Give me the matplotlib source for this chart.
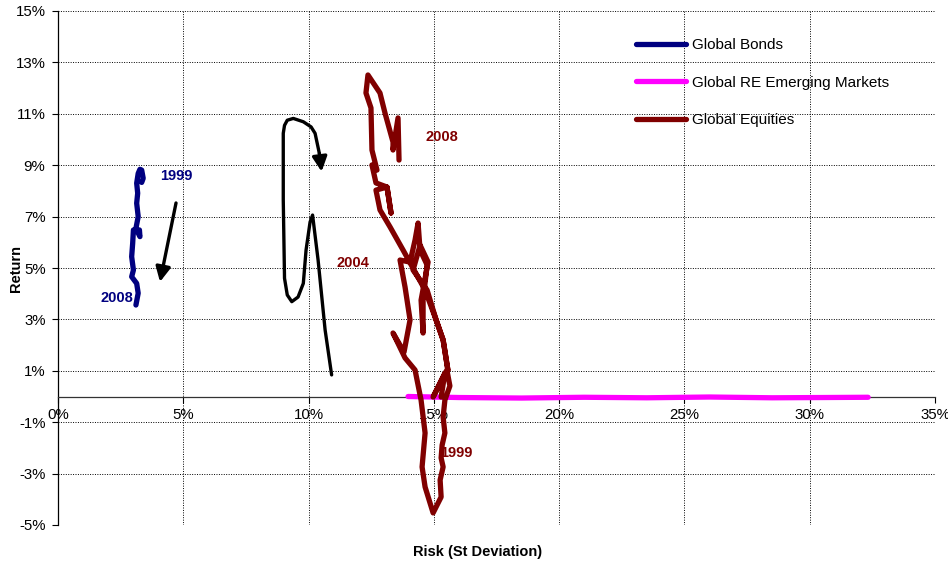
import matplotlib
matplotlib.use('Agg')
import matplotlib.pyplot as plt
import numpy as np

plt.rcParams['font.family'] = ['Liberation Sans', 'DejaVu Sans']

# Rolling risk / return paths, in percent
bonds_risk = [3.34, 3.40, 3.34, 3.27, 3.20, 3.14, 3.18, 3.14, 3.20, 3.11,
              3.27, 3.25, 3.01, 2.98, 2.94, 3.01, 2.94, 3.14, 3.20, 3.11]
bonds_ret = [8.33, 8.49, 8.81, 8.84, 8.68, 8.30, 7.91, 7.52, 7.00, 6.54,
             6.22, 6.48, 6.48, 5.96, 5.44, 4.92, 4.66, 4.40, 4.02, 3.56]

re_em_risk = [13.97, 16.0, 18.5, 21.0, 23.5, 26.0, 28.5, 30.5, 32.33]
re_em_ret = [0.0, -0.04, -0.06, -0.03, -0.05, -0.02, -0.05, -0.04, -0.03]

eq_risk = [15.29, 15.44, 14.97, 15.52, 15.64, 15.44, 15.37, 15.44, 15.33, 15.29,
           15.37, 15.25, 15.29, 14.97, 14.65, 14.53, 14.65, 14.49, 14.25, 13.85,
           13.37, 13.81, 14.05, 13.85, 13.65, 14.05, 14.25, 14.37, 14.45, 14.73,
           14.57, 14.57, 14.49, 14.77, 14.45, 14.17, 14.73, 15.09, 15.37, 15.56,
           15.37, 15.09, 14.65, 13.77, 13.25, 12.85, 12.69, 13.13, 13.29, 13.13,
           12.69, 12.53, 12.73, 12.53, 12.49, 12.29, 12.37, 12.85, 13.05, 13.37,
           13.37, 13.57, 13.61]
eq_ret = [-0.02, 0.91, -0.02, 1.03, 0.41, -0.14, -0.80, -1.42, -1.89, -2.39,
          -2.74, -3.25, -3.91, -4.53, -3.52, -2.74, -1.42, -0.14, 1.03, 1.50,
          2.47, 1.73, 2.98, 4.26, 5.31, 5.23, 6.09, 6.75, 5.70, 5.12,
          3.75, 2.47, 3.75, 5.23, 5.89, 4.92, 4.14, 2.98, 2.20, 1.03,
          2.20, 2.98, 4.14, 5.70, 6.60, 7.26, 8.03, 8.15, 7.14, 8.15,
          8.31, 9.01, 8.81, 9.59, 11.23, 11.81, 12.51, 11.81, 11.03, 9.90,
          9.59, 10.84, 9.20]

# hand-drawn black trend arrow near the equities path
curve_risk = [10.92, 10.66, 10.38, 10.16, 10.06, 9.90, 9.79, 9.58, 9.33, 9.15,
              9.04, 8.99, 8.99, 9.04, 9.15, 9.39, 9.79, 10.10, 10.26, 10.43]
curve_ret = [0.84, 2.59, 5.31, 7.06, 6.79, 5.70, 4.40, 3.87, 3.69, 3.95,
             4.60, 7.65, 10.24, 10.55, 10.75, 10.82, 10.69, 10.49, 10.24, 9.46]
curve_tip = (10.52, 8.75)

bond_arrow_start = (4.71, 7.53)
bond_arrow_end = (4.07, 4.46)

NAVY = '#000080'
MAGENTA = '#FF00FF'
MAROON = '#800000'

fig = plt.figure(figsize=(9.48, 5.66), dpi=100)
ax = fig.add_axes([58 / 948, 1 - 525 / 566, (935 - 58) / 948, (525 - 11) / 566])

# year labels (drawn first so the lines sit on top)
ax.text(4.07, 8.58, '1999', color=NAVY, fontsize=10.5, fontweight='bold', va='center', ha='left', zorder=1)
ax.text(1.68, 3.83, '2008', color=NAVY, fontsize=10.5, fontweight='bold', va='center', ha='left', zorder=1)
ax.text(14.65, 10.10, '2008', color=MAROON, fontsize=10.5, fontweight='bold', va='center', ha='left', zorder=1)
ax.text(11.13, 5.19, '2004', color=MAROON, fontsize=10.5, fontweight='bold', va='center', ha='left', zorder=1)
ax.text(15.24, -2.20, '1999', color=MAROON, fontsize=10.5, fontweight='bold', va='center', ha='left', zorder=1)

kw = dict(solid_joinstyle='round', solid_capstyle='round', zorder=3)
ax.plot(bonds_risk, bonds_ret, color=NAVY, lw=3.8, label='Global Bonds', **kw)
ax.plot(re_em_risk, re_em_ret, color=MAGENTA, lw=3.8, label='Global RE Emerging Markets', **kw)
ax.plot(eq_risk, eq_ret, color=MAROON, lw=3.8, label='Global Equities', **kw)

ax.plot(curve_risk, curve_ret, color='black', lw=2.4, solid_capstyle='round',
        solid_joinstyle='round', zorder=4)
ax.annotate('', xy=curve_tip, xytext=(curve_risk[-1], curve_ret[-1]),
            arrowprops=dict(arrowstyle='-|>', mutation_scale=22, lw=2.4, color='black',
                            shrinkA=0, shrinkB=0), zorder=4)
ax.annotate('', xy=bond_arrow_end, xytext=bond_arrow_start,
            arrowprops=dict(arrowstyle='-|>', mutation_scale=22, lw=2.4, color='black',
                            shrinkA=0, shrinkB=0), zorder=4)

ax.set_xlim(0, 35)
ax.set_ylim(-5, 15)
ax.set_xticks(np.arange(0, 36, 5))
ax.set_yticks(np.arange(-5, 16, 2))
ax.set_xticklabels([f'{v}%' for v in range(0, 36, 5)])
ax.set_yticklabels([f'{v}%' for v in range(-5, 16, 2)])
ax.tick_params(labelsize=10.8, direction='out', length=4, width=0.8, color='black')
ax.tick_params(axis='x', pad=4)
ax.tick_params(axis='y', pad=5)

ax.grid(True, color='black', linestyle=(0, (1, 1.5)), lw=0.7)
ax.set_axisbelow(True)
for s in ['top', 'right']:
    ax.spines[s].set_visible(False)
ax.spines['bottom'].set_position(('data', 0))
ax.spines['left'].set_linewidth(0.9)
ax.spines['bottom'].set_linewidth(0.9)
ax.spines['bottom'].set_color('#333333')

fig.text(16 / 948, 1 - 268 / 566, 'Return', rotation=90, fontsize=10.5, fontweight='bold', ha='center', va='center')
fig.text(478 / 948, 1 - 552 / 566, 'Risk (St Deviation)', fontsize=10.5, fontweight='bold', ha='center', va='center')

ax.legend(loc='upper left', bbox_to_anchor=(636 / 948, 1 - 38 / 566), bbox_transform=fig.transFigure,
          frameon=False, fontsize=11, handlelength=3.3, handletextpad=0.35, labelspacing=1.55,
          borderpad=0, borderaxespad=0)

fig.savefig('out.png', dpi=100)
